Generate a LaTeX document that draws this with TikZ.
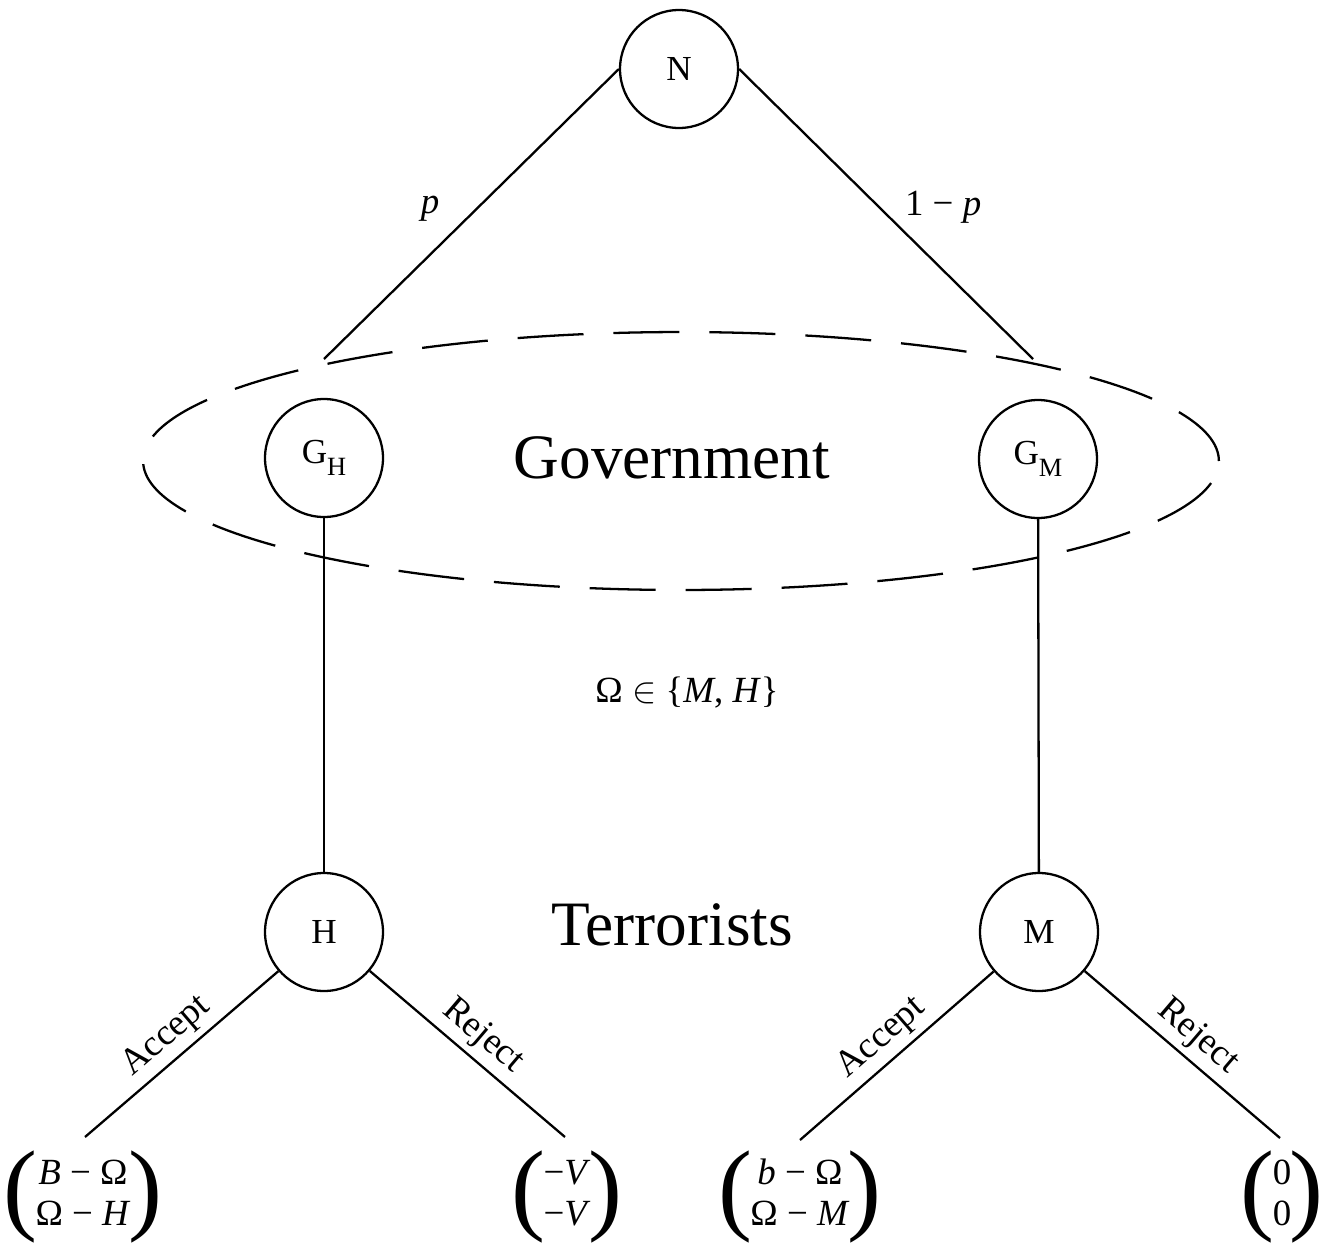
\documentclass[tikz,border=0pt]{standalone}
\usepackage{fontspec}
\setmainfont{Liberation Serif}
\usetikzlibrary{shapes.geometric}
\newcommand\lowsub[1]{\raisebox{-7pt}{\fontsize{15}{15}\selectfont #1}}
\newcommand\bigparen[1]{\vcenter{\hbox{\fontsize{58}{58}\selectfont #1}}}
\newcommand\payoffbox[2]{$\bigparen{(}\mkern-1mu\vcenter{\hbox{\begin{tabular}{@{}c@{}}#1\\#2\end{tabular}}}\mkern-1mu\bigparen{)}$}
\begin{document}
\begin{tikzpicture}[x=0.02cm,y=-0.02cm, line width=1.3pt,
  gnode/.style={draw, circle, minimum size=2.36cm, inner sep=0pt, font=\fontsize{20}{24}\selectfont},
  bigtext/.style={font=\fontsize{36}{40}\selectfont},
  lab/.style={font=\fontsize{21}{25}\selectfont},
  payoff/.style={inner sep=0pt, font=\fontsize{21}{23}\selectfont},
  infoset/.style={draw, ellipse, dash pattern=on 1.32cm off 0.6cm, minimum width=21.52cm, minimum height=5.16cm, inner sep=0pt}]
\useasboundingbox (0,0) rectangle (1339,1258);

\node[infoset] (E) at (681,461) {};
\node[gnode, fill=white] (N) at (679,69) {N};
\node[gnode, fill=white] (GH) at (324,458) {G\lowsub{H}};
\node[gnode, fill=white] (GM) at (1038,459) {G\lowsub{M}};
\node[gnode] (H) at (324,932) {H};
\node[gnode] (M) at (1039,932) {M};

\node[bigtext] (gov) at (672,458) {Government};
\node[bigtext] (ter) at (672,925) {Terrorists};
\node[lab] (om) at (687,693) {Ω $\in$ \{\textit{M}, \textit{H}\}};

\coordinate (gl) at (324,359);
\coordinate (gr) at (1033,359);

\draw (N.west) -- node[lab, anchor=east, xshift=-0.5cm, yshift=0.1cm] {\textit{p}} (gl);
\draw (N.east) -- node[lab, anchor=west, xshift=0.24cm, yshift=0.14cm] {1 − \textit{p}} (gr);

\draw (GH) -- (H);
\draw (GM) -- (M);

\coordinate (hl) at (85,1137);
\coordinate (hr) at (565,1137);
\coordinate (ml) at (800,1140);
\coordinate (mr) at (1280,1138);

\draw (H) -- node[lab, sloped, above] {Accept} (hl);
\draw (H) -- node[lab, sloped, above] {Reject} (hr);
\draw (M) -- node[lab, sloped, above] {Accept} (ml);
\draw (M) -- node[lab, sloped, above] {Reject} (mr);

\node[payoff] (p1) at (83,1197) {\payoffbox{\textit{B} − Ω}{Ω − \textit{H}}};
\node[payoff] (p2) at (567,1197) {\payoffbox{−\textit{V}}{−\textit{V}}};
\node[payoff] (p3) at (800,1197) {\payoffbox{\textit{b} − Ω}{Ω − \textit{M}}};
\node[payoff] (p4) at (1282,1197) {\payoffbox{0}{0}};
\end{tikzpicture}
\end{document}
